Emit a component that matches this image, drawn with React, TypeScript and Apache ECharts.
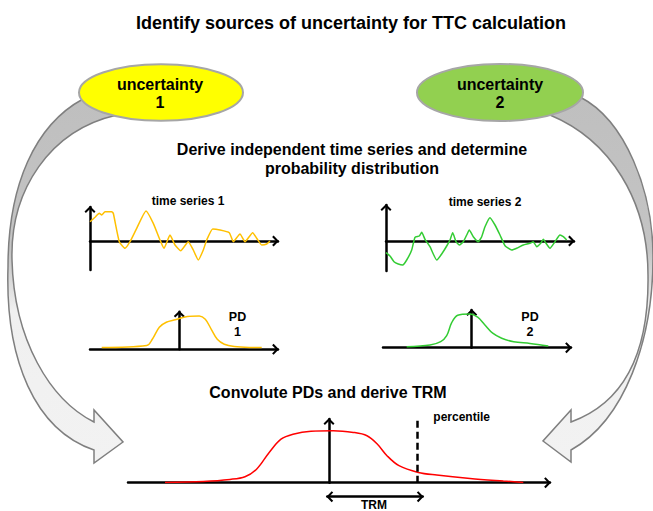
import React, { useEffect, useRef } from "react";
import * as echarts from "echarts";

// ---------- texts ----------
const titleText = "Identify sources of uncertainty for TTC calculation";
const uncertaintyLabels = ["uncertainty\n1", "uncertainty\n2"];
const deriveLines = ["Derive independent time series and determine", "probability distribution"];
const seriesTitles = ["time series 1", "time series 2"];
const pdLabels = ["PD\n1", "PD\n2"];
const convTitle = "Convolute PDs and derive TRM";
const percentileLabel = "percentile";
const trmLabel = "TRM";

// ---------- data ----------
const ts1Time = [0, 5, 9.3, 11.7, 15, 21.7, 23.3, 29.3, 35, 40, 46.7, 56, 63.3, 70, 74, 80, 85, 90.7, 98.3, 103.3, 108.3, 113.3, 116.7, 122.7, 130, 139.3, 143.3, 150, 155, 162.7, 166.7, 171.7, 176.7, 180];
const ts1Values = [19.3, 23.7, 27.7, 26, 29.3, 29.3, 27.7, -0.7, -7.3, -0.7, 12.7, 30, 17.7, 1, -7.3, 6, -4, -9.7, -0.7, -9, -19, -9, 1, 12, 11, 8.3, -0.7, 7, -0.7, 8.3, 2.7, -4, -3, 0];

const ts2Time = [0, 4, 8, 12.3, 16.7, 20.7, 25.7, 29, 33.3, 35.7, 39, 44, 50.7, 55.7, 61.3, 64, 66.7, 70, 73.3, 77.3, 80.7, 83.3, 87.3, 92.3, 95.7, 99, 104, 109, 114, 119, 125.7, 130.7, 137.3, 144, 147.3, 150.7, 154.7, 157.3, 160, 164, 169, 174, 177.3, 180.7];
const ts2Values = [-11.7, -15, -20.7, -23, -24, -19, -9, 3.7, 5, 8.7, 1.7, -5.7, -19, -13, -4, 1, 8.3, -0.7, -4, -0.7, 6, 11, 4.3, -0.7, 4.3, 14.3, 23.3, 16, 6, -4.7, -9, -7.3, -4, -2.3, -0.7, -5.7, -2.3, 1.7, -2.3, -7.3, -0.7, 6, 4.3, 1];

const pd1X = [-77.6, -32.6, -27, -20, -13, -4, 8, 20, 26, 32, 38, 45, 55, 70, 82.4];
const pd1Y = [1.7, 3.7, 10, 22, 27, 29.5, 32.8, 33.3, 30, 20, 10, 5, 2.7, 1.8, 1.7];

const pd2X = [-65, -41.7, -31, -25, -20, -14, -2, 6, 13, 21, 30, 42, 58.3, 76.6];
const pd2Y = [1, 2.7, 6, 12, 25, 32.5, 33.7, 30.5, 23, 14.5, 9.5, 6, 4.3, 1.7];

const convX = [-164, -125.7, -99, -84, -72, -60, -48, -36, -18, 4.3, 24.3, 38, 48, 58, 70, 89.3, 107.7, 141, 174.3, 194.3];
const convY = [0.3, 1.3, 3.3, 6, 14, 30, 43.5, 48.5, 51.5, 52, 50.3, 47, 39, 27, 17, 10.3, 7.7, 4.3, 1.7, 0.3];
const percentileX = 88.3;

// ---------- shapes ----------
const leftArrowPath =
  "M 83 99 C 35 125 8 185 8 267 C 5 360 35 430 94 450 L 94 463 L 123 442 L 94 410 L 94 422 C 50 400 14 340 12 260 C 10 190 50 130 117 115 Z";
const rightArrowPath =
  "M 580 97 C 625 120 653 190 653 257 C 653 340 625 420 571 450 L 571 462 L 543 441 L 571 410 L 571 422 C 632 400 649 340 648 275 C 648 200 610 140 550 115 Z";

echarts.graphic.registerShape("leftBendArrow", echarts.graphic.extendPath(leftArrowPath, {}));
echarts.graphic.registerShape("rightBendArrow", echarts.graphic.extendPath(rightArrowPath, {}));

const FONT = '"Liberation Sans", Arial, Helvetica, sans-serif';
const CHEVRON = "path://M5.5,0 L11,5.3 L9.6,6.8 L5.5,2.9 L1.4,6.8 L0,5.3 Z";

const pairs = (xs: number[], ys: number[]) => xs.map((x, i) => [x, ys[i]]);

function axis(gridIndex: number, min: number, max: number, symbol: any, offset: [number, number], show = true) {
  return {
    type: "value",
    gridIndex,
    min,
    max,
    show,
    axisLine: {
      show: true,
      onZero: true,
      symbol,
      symbolSize: [11, 7],
      symbolOffset: offset,
      lineStyle: { color: "#000", width: 2.5 },
    },
    axisTick: { show: false },
    axisLabel: { show: false },
    splitLine: { show: false },
  };
}

const END: [string, string] = ["none", CHEVRON];

function text(t: string, x: number, y: number, size: number, align = "center", lineHeight?: number) {
  return {
    type: "text",
    z: 10,
    style: {
      text: t,
      x,
      y,
      fill: "#000",
      font: `bold ${size}px ${FONT}`,
      textAlign: align,
      align,
      textVerticalAlign: "middle",
      verticalAlign: "middle",
      lineHeight: lineHeight ?? size * 1.2,
    },
  };
}

const arrowFill = () =>
  new echarts.graphic.LinearGradient(0, 0, 0, 1, [
    { offset: 0, color: "#bfbfbf" },
    { offset: 0.42, color: "#c4c4c4" },
    { offset: 0.58, color: "#f0f0f0" },
    { offset: 1, color: "#f2f2f2" },
  ]);

const smoothLine = (xi: number, data: number[][], color: string) => ({
  type: "line",
  xAxisIndex: xi,
  yAxisIndex: xi,
  data,
  showSymbol: false,
  symbol: "none",
  smooth: 0.35,
  lineStyle: { color, width: 1.5 },
  z: 3,
});

const option: any = {
  animation: false,
  backgroundColor: "#ffffff",
  grid: [
    { left: 90, top: 207, width: 188, height: 63 }, // ts1
    { left: 386, top: 205, width: 188, height: 66 }, // ts2
    { left: 90, top: 311.7, width: 188, height: 37.6 }, // pd1
    { left: 383, top: 310, width: 188, height: 37.7 }, // pd2
    { left: 128, top: 419, width: 422, height: 63.7 }, // conv
    { left: 327.3, top: 486.7, width: 95.4, height: 10 }, // TRM
  ],
  xAxis: [
    axis(0, 0, 188, END, [0, -2.5]),
    axis(1, 0, 188, END, [0, -2.5]),
    axis(2, -89.3, 98.7, END, [0, -2.5]),
    axis(3, -88.7, 99.3, END, [0, -2.5]),
    axis(4, -201, 221, END, [0, -2.5]),
    axis(5, 0, 1, [CHEVRON, CHEVRON], [2.5, -2.5]),
  ],
  yAxis: [
    axis(0, -29, 34, END, [0, -2.5]),
    axis(1, -30, 36, END, [0, -2.5]),
    axis(2, 0, 37.6, END, [0, -2.5]),
    axis(3, 0, 37.7, END, [0, -2.5]),
    axis(4, 0, 63.7, END, [0, -2.5]),
    axis(5, 0, 1, "none", [0, 0], false),
  ],
  series: [
    {
      type: "line",
      xAxisIndex: 0,
      yAxisIndex: 0,
      data: pairs(ts1Time, ts1Values),
      showSymbol: false,
      symbol: "none",
      smooth: 0.15,
      lineStyle: { color: "#ffc000", width: 1.5 },
      z: 3,
    },
    {
      type: "line",
      xAxisIndex: 1,
      yAxisIndex: 1,
      data: pairs(ts2Time, ts2Values),
      showSymbol: false,
      symbol: "none",
      smooth: 0.15,
      lineStyle: { color: "#33cc33", width: 1.5 },
      z: 3,
    },
    smoothLine(2, pairs(pd1X, pd1Y), "#ffc000"),
    smoothLine(3, pairs(pd2X, pd2Y), "#33cc33"),
    {
      ...smoothLine(4, pairs(convX, convY), "#ff0000"),
      markLine: {
        silent: true,
        symbol: "none",
        label: { show: false },
        lineStyle: { color: "#000", width: 2.5, type: [7, 4] },
        data: [{ xAxis: percentileX }],
      },
    },
  ],
  graphic: [
    {
      type: "leftBendArrow",
      x: 0,
      y: 0,
      z: 0,
      style: { fill: arrowFill(), stroke: "#7f7f7f", lineWidth: 1.5 },
    },
    {
      type: "rightBendArrow",
      x: 0,
      y: 0,
      z: 0,
      style: { fill: arrowFill(), stroke: "#7f7f7f", lineWidth: 1.5 },
    },
    {
      type: "ellipse",
      z: 1,
      shape: { cx: 161, cy: 92.5, rx: 82, ry: 28.3 },
      style: { fill: "#ffff00", stroke: "#a6a6a6", lineWidth: 2 },
    },
    {
      type: "ellipse",
      z: 1,
      shape: { cx: 500, cy: 92.5, rx: 83, ry: 28.5 },
      style: { fill: "#92d050", stroke: "#a6a6a6", lineWidth: 2 },
    },
    text(titleText, 351, 23, 18),
    text(uncertaintyLabels[0], 160, 93.5, 16, "center", 18.5),
    text(uncertaintyLabels[1], 500, 93.5, 16, "center", 18.5),
    text(deriveLines[0], 352, 149, 16),
    text(deriveLines[1], 352, 168, 16),
    text(seriesTitles[0], 188, 201.3, 12),
    text(seriesTitles[1], 485, 201.5, 12),
    text(pdLabels[0], 237.5, 324, 12.5, "center", 15),
    text(pdLabels[1], 530, 324, 12.5, "center", 15),
    text(convTitle, 328, 392, 16),
    text(percentileLabel, 433.3, 416.5, 12, "left"),
    text(trmLabel, 374, 504.5, 12),
  ],
};

export default function App() {
  const ref = useRef<HTMLDivElement>(null);
  useEffect(() => {
    if (!ref.current) return;
    const chart = echarts.init(ref.current, null, { renderer: "svg" });
    chart.setOption(option);
    return () => chart.dispose();
  }, []);
  return (
    <div
      ref={ref}
      style={{ position: "absolute", left: 0, top: 0, width: 653, height: 511, background: "#fff" }}
    />
  );
}
